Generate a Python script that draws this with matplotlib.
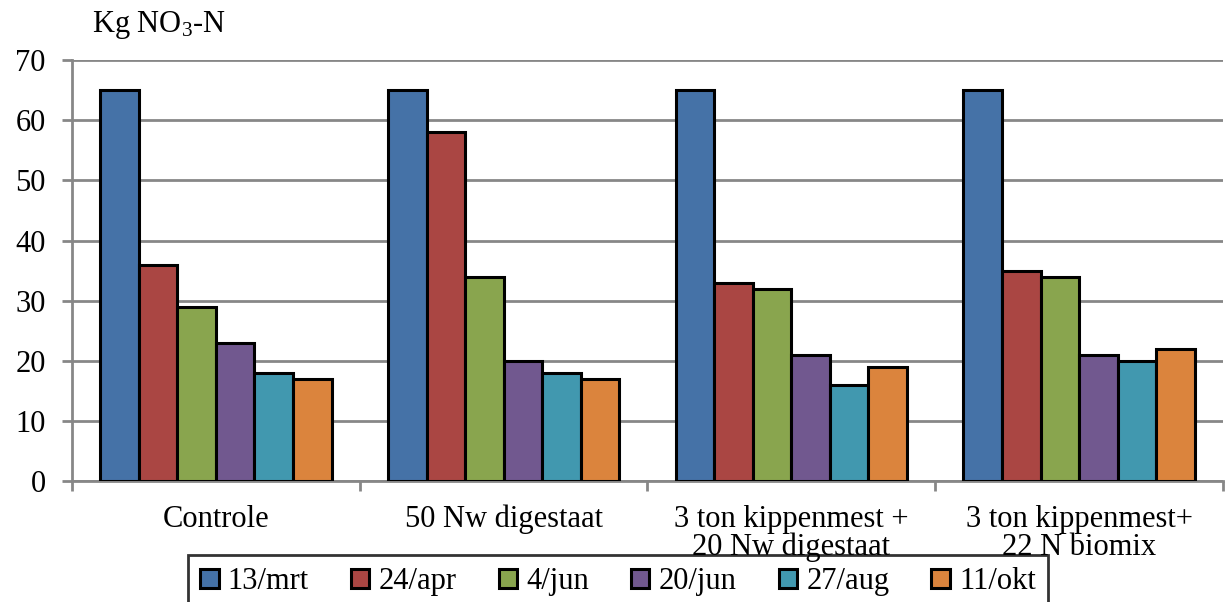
import numpy as np
import matplotlib.pyplot as plt

plt.rcParams['font.family'] = ['Liberation Serif', 'DejaVu Serif']
plt.rcParams['mathtext.fontset'] = 'custom'
plt.rcParams['mathtext.rm'] = 'Liberation Serif'
plt.rcParams['mathtext.it'] = 'Liberation Serif'

# treatments and sampling dates
groups = ['Controle', '50 Nw digestaat',
          '3 ton kippenmest +\n20 Nw digestaat', '3 ton kippenmest+\n22 N biomix']
dates = ['13/mrt', '24/apr', '4/jun', '20/jun', '27/aug', '11/okt']

mrt13 = [65, 65, 65, 65]
apr24 = [36, 58, 33, 35]
jun4 = [29, 34, 32, 34]
jun20 = [23, 20, 21, 21]
aug27 = [18, 18, 16, 20]
okt11 = [17, 17, 19, 22]
series = [mrt13, apr24, jun4, jun20, aug27, okt11]

colors = ['#4572A7', '#AA4643', '#89A54E', '#71588F', '#4198AF', '#DB843D']
grey = '#878787'
fs = 22

fig = plt.figure(figsize=(12.27, 6.02), dpi=100)
ax = fig.add_axes([0.0587, 0.201, 0.938, 0.699])

x = np.arange(len(groups))
w = 0.134
for k, (vals, c) in enumerate(zip(series, colors)):
    ax.bar(x + (k - 2.5) * w, vals, width=w, color=c, edgecolor='black',
           linewidth=2.2, label=dates[k], zorder=3)

ax.set_xlim(-0.5, len(groups) - 0.5)
ax.set_ylim(0, 70)
ax.set_yticks(np.arange(0, 71, 10))
ax.yaxis.grid(True, color=grey, linewidth=2, zorder=0)

for s in ['top', 'right']:
    ax.spines[s].set_visible(False)
for s in ['left', 'bottom']:
    ax.spines[s].set_color(grey)
    ax.spines[s].set_linewidth(2)

ax.set_xticks(x)
ax.set_xticklabels(groups, linespacing=0.95)
ax.set_xticks(np.arange(-0.5, len(groups), 1), minor=True)
ax.tick_params(axis='x', which='major', length=0, pad=17, labelsize=fs)
ax.tick_params(axis='x', which='minor', length=7, width=2, color=grey)
ax.tick_params(axis='y', length=7, width=2, color=grey, pad=12, labelsize=fs)

fig.text(92 / 1227, 1 - 25 / 602, 'Kg NO$_3$-N', fontsize=fs,
         ha='left', va='center')

leg = ax.legend(loc='upper left', bbox_to_anchor=(188 / 1227, 1 - 555 / 602),
                bbox_transform=fig.transFigure, ncol=6, fontsize=fs,
                frameon=True, fancybox=False, handlelength=0.6,
                handleheight=0.6, handletextpad=0.3, columnspacing=1.38,
                borderpad=0.4, borderaxespad=0)
leg.get_frame().set_edgecolor('black')
leg.get_frame().set_linewidth(2)
leg.get_frame().set_facecolor('none')

fig.savefig('out.png', dpi=100)
